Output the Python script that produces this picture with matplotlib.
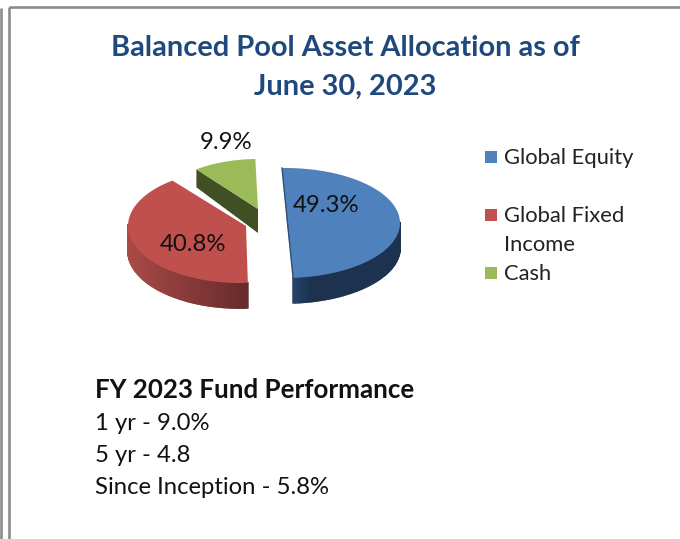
import numpy as np
import matplotlib; matplotlib.use('Agg'); import matplotlib.pyplot as plt
from matplotlib.colors import to_rgb

labels = ['Global Equity', 'Global Fixed\nIncome', 'Cash']
values = [49.3, 40.8, 9.9]
title_lines = ['Balanced Pool Asset Allocation as of', 'June 30, 2023']
perf_title = 'FY 2023 Fund Performance'
perf_lines = ['1 yr - 9.0%', '5 yr - 4.8', 'Since Inception - 5.8%']

top_colors = ['#4F81BD', '#C0504D', '#9BBB59']
wall_left = ['#2F4F77', '#A84A48', '#404F24']
wall_right = ['#1C324F', '#662B2A', '#404F24']
centers = [(285, 223), (240, 226), (258, 210)]
apexes = [(287, 223), (246, 226), (258, 209)]
radii = [(115, 55), (112, 57), (102, 51)]
DEPTH = 25
START = 91.5

plt.rcParams['font.family'] = ['Lato', 'DejaVu Sans']
fig = plt.figure(figsize=(6.8, 5.39), dpi=100)
ax = fig.add_axes([0, 0, 1, 1])
ax.set_xlim(0, 680); ax.set_ylim(539, 0); ax.axis('off')

# page frame
for xs, ys in [([1.2, 1.2], [8, 539]), ([8.7, 8.7], [539, 7]), ([8.7, 680], [7, 7])]:
    ax.plot(xs, ys, color='#8C8C8C', lw=1.9, solid_capstyle='butt')

def arc(c, r, t0, t1, n=80):
    t = np.radians(np.linspace(t0, t1, n))
    return c[0] + r[0] * np.cos(t), c[1] - r[1] * np.sin(t)

# slice angles, clockwise from the start angle
edges = START - np.cumsum([0] + values) * 3.6

for i in [2, 1, 0]:
    t0, t1 = edges[i], edges[i + 1]
    c, r, a = centers[i], radii[i], apexes[i]
    # rounded front wall, split up so the colour can run left to right
    x, y = arc(c, r, t0, t1, 160)
    lo, hi = x.min(), x.max()
    for k in range(len(x) - 1):
        if np.sin(np.radians(t0 + (t1 - t0) * k / 159)) > 0.02:
            continue
        f = (x[k] - lo) / max(hi - lo, 1)
        if i == 0:
            f = min(1, f * 4)
        col = (1 - f) * np.array(to_rgb(wall_left[i])) + f * np.array(to_rgb(wall_right[i]))
        ax.fill([x[k], x[k + 1], x[k + 1], x[k]],
                [y[k], y[k + 1], y[k + 1] + DEPTH, y[k] + DEPTH],
                facecolor=col, edgecolor=col, lw=1.2, zorder=2)
    if i == 2:
        # cut face of the pulled-out slice
        ex, ey = arc(c, r, t0, t0, 1)
        ax.fill([a[0], ex[0], ex[0], a[0]], [a[1], ey[0], ey[0] + 18, a[1] + 24],
                color=wall_left[i], lw=0, zorder=4)
    x, y = arc(c, r, t0, t1)
    ax.fill(np.r_[a[0], x], np.r_[a[1], y], color=top_colors[i], lw=0, zorder=3 if i < 2 else 5)
    if i == 0:
        ax.plot([x[0], x[-1]], [y[0], y[-1]], color='#2F4F77', lw=1.0, zorder=3)

label_pos = [(326, 205.5), (193, 244.5), (226, 142.5)]
for v, (lx, ly) in zip(values, label_pos):
    ax.text(lx, ly, f'{v}%', fontsize=17.3, color='#111111', ha='center', va='center', zorder=6)

for k, line in enumerate(title_lines):
    ax.text(345, 48.5 + 38 * k, line, fontsize=20.9, fontweight='bold', color='#1F497D',
            ha='center', va='center')

legend_y = [157, 215, 273]
for i, (lab, ly) in enumerate(zip(labels, legend_y)):
    ax.scatter([491], [ly], marker='s', s=80, color=top_colors[i], linewidths=0)
    ax.text(504, ly - 8.5, lab, fontsize=15.8, color='#222222', va='top', linespacing=1.55)

ax.text(95, 390, perf_title, fontsize=18.6, fontweight='bold', color='#111111', va='center')
for k, line in enumerate(perf_lines):
    ax.text(95, 424 + 32 * k, line, fontsize=17.2, color='#111111', va='center')

fig.savefig('out.png', dpi=100)
